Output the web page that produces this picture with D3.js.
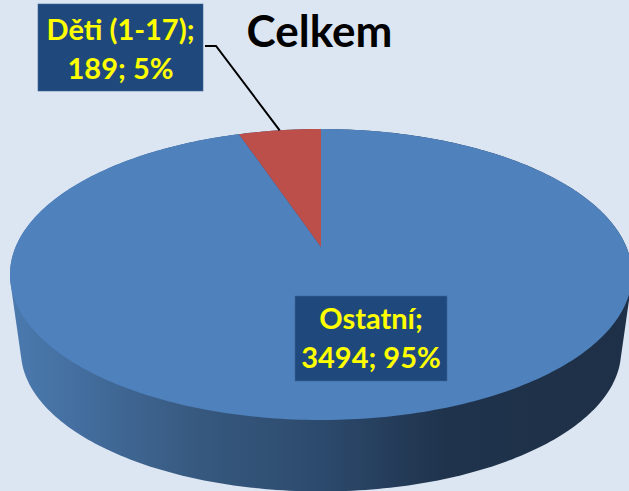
<!DOCTYPE html>
<html><head><meta charset="utf-8">
<script src="https://cdn.jsdelivr.net/npm/d3@7/dist/d3.min.js"></script>
<style>html,body{margin:0;padding:0;background:#dce6f2;overflow:hidden}svg{display:block}</style>
</head><body><svg id="c" width="629" height="491"></svg>
<script>
const categories = ["Ostatní", "Děti (1-17)"];
const values = [3494, 189];
const percents = ["95%", "5%"];
const colors = ["#4f81bd", "#bd4f4b"];
const title = "Celkem";

(function () {
const svg = d3.select("#c");
const W = 629, H = 491;
const font = "Lato, Carlito, Calibri, sans-serif";

// perspective disc projection
const k = 0.189;
const proj = (cx, cy, rx, ry) => a => {
  const u = Math.sin(a), v = -Math.cos(a), w = 1 - k * v;
  return [cx + rx * u / w, cy + ry * v / w];
};
const topDisc = proj(321, 247, 305.4, 140.3);
const bottomDisc = proj(321, 324.5, 294.7, 135.4);

const TAU = Math.PI * 2;
const samples = (a0, a1, n) => d3.range(n + 1).map(i => a0 + (a1 - a0) * i / n);

const defs = svg.append("defs");
const sideGrad = defs.append("linearGradient").attr("id", "side")
  .attr("gradientUnits", "userSpaceOnUse").attr("x1", 10).attr("x2", 632).attr("y1", 0).attr("y2", 0);
[[0, "#4b7aaf"], [0.12, "#436d9d"], [0.3, "#37597f"], [0.5, "#2c4a6d"], [0.7, "#1f334c"], [1, "#1e3047"]]
  .forEach(([o, c]) => sideGrad.append("stop").attr("offset", o).attr("stop-color", c));

svg.append("rect").attr("width", W).attr("height", H).attr("fill", "#dce6f2");

// side wall: hull of the top and bottom discs
const hull = d3.polygonHull(samples(0, TAU, 360).flatMap(a => [topDisc(a), bottomDisc(a)]));
svg.append("path").attr("d", d3.line()(hull) + "Z").attr("fill", "url(#side)");

// faces
const slices = d3.pie().sort(null).value(d => d)(values);
svg.selectAll("path.face").data(slices).join("path").attr("class", "face")
  .attr("d", d => {
    const n = Math.max(4, Math.ceil((d.endAngle - d.startAngle) * 60));
    return d3.line()([[321, 247], ...samples(d.startAngle, d.endAngle, n).map(topDisc)]) + "Z";
  })
  .attr("fill", (d, i) => colors[i]);

// leader line for the small slice
const mid = (slices[1].startAngle + slices[1].endAngle) / 2;
svg.append("path").attr("d", d3.line()([[205, 46], [216, 46], topDisc(mid)]))
  .attr("fill", "none").attr("stroke", "#000").attr("stroke-width", 2);

// title
svg.append("text").attr("x", 319.5).attr("y", 47).attr("text-anchor", "middle")
  .attr("font-family", font).attr("font-weight", 700).attr("font-size", 44)
  .attr("fill", "#000").text(title);

// data labels
const labelBoxes = [
  { x: 295, y: 296, w: 152, h: 85, l1: 329, l2: 368 },
  { x: 38, y: 4, w: 165, h: 87, l1: 40, l2: 79 }
];
labelBoxes.forEach((b, i) => {
  svg.append("rect").attr("x", b.x).attr("y", b.y).attr("width", b.w).attr("height", b.h)
    .attr("fill", "#1f497d").attr("stroke", "#3f6797").attr("stroke-width", 0.6);
  const cx = b.x + b.w / 2;
  [[categories[i] + ";", b.l1], [values[i] + "; " + percents[i], b.l2]].forEach(([t, y]) => {
    svg.append("text").attr("x", cx).attr("y", y).attr("text-anchor", "middle")
      .attr("font-family", font).attr("font-weight", 700).attr("font-size", 29)
      .attr("fill", "#ffff00").text(t);
  });
});
})();
</script></body></html>
